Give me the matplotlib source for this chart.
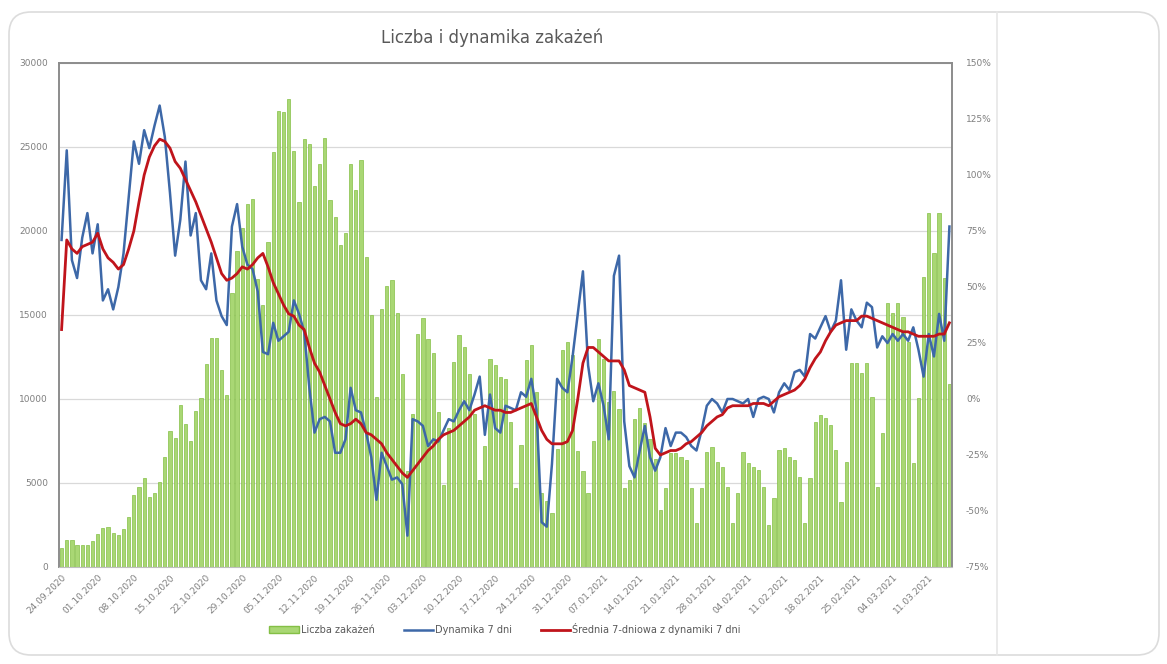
import matplotlib
matplotlib.use('Agg')
import matplotlib.pyplot as plt
from matplotlib.patches import FancyBboxPatch, Patch
from matplotlib.lines import Line2D

# daily infections, 24.09.2020 - 15.03.2021
cases = [1136, 1587, 1584, 1306, 1300, 1326, 1552, 1967, 2292, 2367,
         2006, 1934, 2236, 3003, 4280, 4739, 5300, 4178, 4394, 5068,
         6526, 8099, 7705, 9622, 8536, 7482, 9291, 10040, 12107, 13632,
         13628, 11742, 10241, 16300, 18820, 20156, 21629, 21897, 17171, 15578,
         19364, 24692, 27143, 27086, 27875, 24785, 21713, 25500, 25200, 22683,
         24000, 25550, 21854, 20816, 19152, 19883, 23975, 22464, 24213, 18470,
         15002, 10139, 15362, 16700, 17100, 15100, 11483, 5733, 9105, 13855,
         14838, 13601, 12756, 9200, 4896, 8300, 12200, 13800, 13100, 11500,
         9100, 5200, 7200, 12400, 12000, 11300, 11200, 8650, 4680, 7260,
         12300, 13200, 10400, 4400, 3950, 3211, 7000, 12900, 13400, 12600,
         6900, 5700, 4400, 7500, 13550, 12400, 9800, 10500, 9400, 4680,
         5200, 8800, 9440, 8550, 7600, 6400, 3390, 4700, 6800, 6770,
         6570, 6370, 4680, 2600, 4680, 6860, 7160, 6270, 5970, 4780,
         2600, 4390, 6860, 6170, 5970, 5770, 4780, 2500, 4090, 6960,
         7060, 6570, 6370, 5380, 2600, 5280, 8650, 9050, 8850, 8450,
         6960, 3890, 6270, 12120, 12120, 11530, 12120, 10140, 4780, 7950,
         15700, 15100, 15690, 14900, 13400, 6170, 10040, 17260, 21050, 18670,
         21050, 17180, 10900]

# dynamika 7 dni [%]
dyn = [71, 111, 62, 54, 72, 83, 65, 78, 44, 49,
       40, 50, 65, 90, 115, 105, 120, 112, 122, 131,
       117, 92, 64, 80, 106, 73, 83, 53, 49, 65,
       44, 37, 33, 77, 87, 68, 60, 58, 48, 21,
       20, 34, 26, 28, 30, 44, 38, 30, 5, -15,
       -9, -8, -10, -24, -24, -18, 5, -5, -6, -15,
       -26, -45, -24, -30, -36, -35, -38, -61, -9, -10,
       -12, -21, -18, -19, -14, -9, -10, -5, -1, -5,
       2, 10, -16, 2, -13, -15, -3, -4, -5, 3,
       1, 9, -5, -55, -57, -29, 9, 5, 3, 19,
       38, 57, 15, -1, 7, -3, -18, 55, 64, -10,
       -30, -35, -23, -12, -26, -32, -26, -13, -21, -15,
       -15, -17, -21, -23, -14, -3, 0, -2, -6, 0,
       0, -1, -2, 0, -8, 0, 1, 0, -6, 3,
       7, 4, 12, 13, 10, 29, 27, 32, 37, 30,
       35, 53, 22, 40, 35, 32, 43, 41, 23, 28,
       25, 29, 26, 29, 26, 32, 22, 10, 29, 19,
       38, 26, 77]

# srednia 7-dniowa z dynamiki [%]
avg = [31, 71, 67, 65, 68, 69, 70, 74, 67, 63,
       61, 58, 60, 67, 75, 88, 100, 108, 113, 116,
       115, 112, 106, 103, 98, 93, 88, 82, 76, 70,
       63, 56, 53, 54, 56, 59, 58, 60, 63, 65,
       59, 52, 47, 42, 38, 37, 33, 31, 23, 16,
       12, 6, 0, -6, -11, -12, -11, -9, -11, -15,
       -16, -18, -20, -24, -27, -30, -33, -35, -32, -29,
       -26, -23, -21, -18, -16, -15, -14, -12, -10, -8,
       -5, -4, -3, -4, -5, -5, -6, -6, -5, -4,
       -3, -2, -8, -14, -18, -20, -20, -20, -19, -14,
       0, 16, 23, 23, 21, 19, 17, 17, 17, 13,
       6, 5, 4, 3, -8, -22, -25, -24, -23, -23,
       -22, -20, -19, -17, -15, -12, -10, -8, -7, -4,
       -3, -3, -3, -3, -2, -2, -2, -3, -1, 1,
       2, 3, 4, 6, 9, 14, 18, 21, 26, 30,
       33, 34, 35, 35, 35, 37, 37, 36, 35, 34,
       33, 32, 31, 30, 30, 29, 28, 28, 28, 28,
       29, 29, 34]

tick_labels = ['24.09.2020', '01.10.2020', '08.10.2020', '15.10.2020', '22.10.2020',
               '29.10.2020', '05.11.2020', '12.11.2020', '19.11.2020', '26.11.2020',
               '03.12.2020', '10.12.2020', '17.12.2020', '24.12.2020', '31.12.2020',
               '07.01.2021', '14.01.2021', '21.01.2021', '28.01.2021', '04.02.2021',
               '11.02.2021', '18.02.2021', '25.02.2021', '04.03.2021', '11.03.2021']

W, H = 1167, 664
fig = plt.figure(figsize=(W / 100, H / 100), dpi=100)

# frame around the chart
bg = fig.add_axes([0, 0, 1, 1], zorder=-5)
bg.set_xlim(0, W)
bg.set_ylim(H, 0)
bg.axis('off')
bg.add_patch(FancyBboxPatch((9, 12), 1150, 643, boxstyle='round,pad=0,rounding_size=22',
                            fc='white', ec='#dcdcdc', lw=1.2))
bg.plot([997, 997], [12, 655], color='#e6e6e6', lw=1.2)

ax = fig.add_axes([59 / W, 97 / H, 893 / W, 504 / H])
x = list(range(len(cases)))
ax.bar(x, cases, width=0.62, color='#a9d774', edgecolor='#84bf45', linewidth=0.5, zorder=2)
ax.set_xlim(-0.5, len(cases) - 0.5)
ax.set_ylim(0, 30000)
ax.set_yticks(range(0, 30001, 5000))
ax.yaxis.grid(True, color='#d9d9d9', lw=0.9, zorder=0)
ax.set_axisbelow(True)
ax.set_xticks(range(0, len(cases), 7))
ax.set_xticklabels(tick_labels, rotation=45, ha='right', rotation_mode='anchor',
                   fontsize=6.5, color='#7f7f7f')
ax.tick_params(axis='y', labelsize=6.5, labelcolor='#7f7f7f', length=0, pad=8)
ax.tick_params(axis='x', length=0, pad=4)
for s in ax.spines.values():
    s.set_color('#8c8c8c')
    s.set_linewidth(1.4)
ax.spines['bottom'].set_color('#bfbfbf')
ax.spines['bottom'].set_linewidth(0.8)

ax2 = ax.twinx()
ax2.plot(x, dyn, color='#3d68a8', lw=1.8, zorder=3)
ax2.plot(x, avg, color='#c0141b', lw=2.0, zorder=4)
ax2.set_ylim(-75, 150)
ax2.set_yticks(range(-75, 151, 25))
ax2.set_yticklabels([f'{v}%' for v in range(-75, 151, 25)])
ax2.tick_params(axis='y', labelsize=6.5, labelcolor='#7f7f7f', length=0, pad=10)
for s in ax2.spines.values():
    s.set_visible(False)

fig.text(492 / W, 1 - 38 / H, 'Liczba i dynamika zakażeń', ha='center', va='center',
         fontsize=12, color='#595959')

handles = [Patch(facecolor='#a9d774', edgecolor='#84bf45'),
           Line2D([], [], color='#3d68a8', lw=1.8),
           Line2D([], [], color='#c0141b', lw=2.0)]
labels = ['Liczba zakażeń', 'Dynamika 7 dni', 'Średnia 7-dniowa z dynamiki 7 dni']
fig.legend(handles, labels, loc='center', bbox_to_anchor=(505 / W, 1 - 629 / H), ncol=3,
           frameon=False, fontsize=7, labelcolor='#595959', handlelength=3,
           handletextpad=0.2, columnspacing=3)

fig.savefig('out.png', dpi=100, facecolor='white')
